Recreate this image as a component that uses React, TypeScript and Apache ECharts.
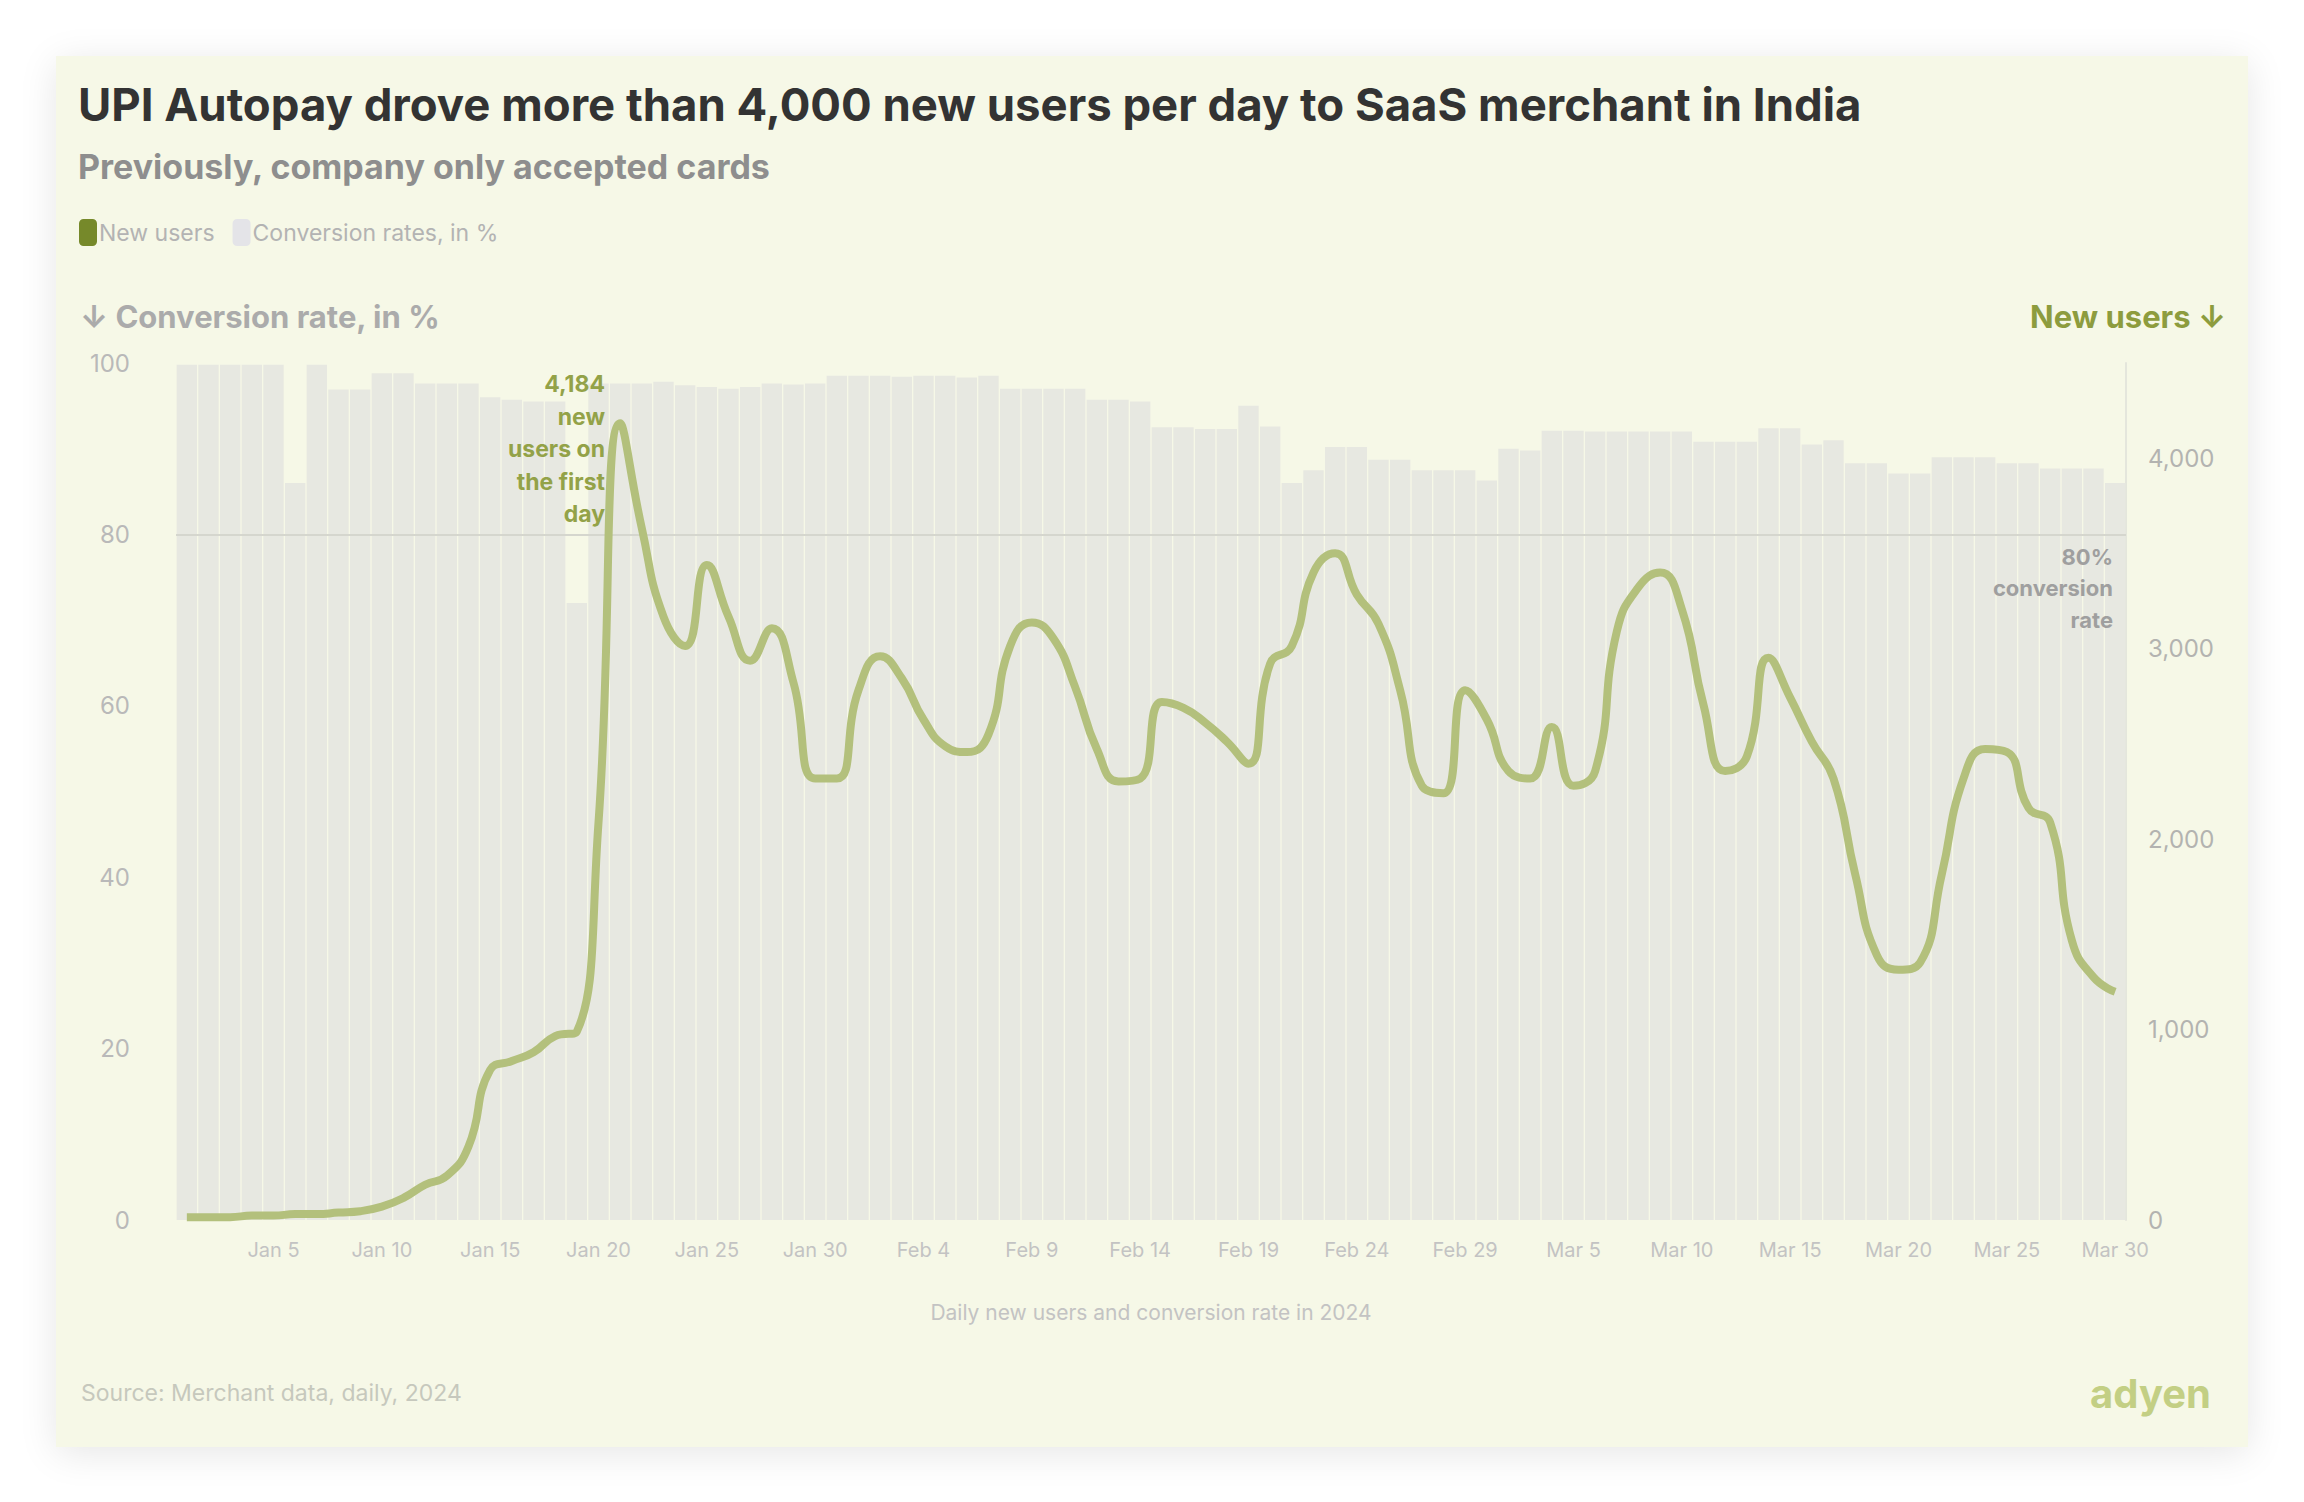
import React, { useEffect, useRef } from "react";
import * as echarts from "echarts";

const startYear = 2024;
const startMonth = 0;
const dayCount = 90;
const monthNames = ["Jan", "Feb", "Mar", "Apr", "May", "Jun", "Jul", "Aug", "Sep", "Oct", "Nov", "Dec"];
const categories: string[] = [];
for (let i = 0; i < dayCount; i++) {
  const d = new Date(startYear, startMonth, 1 + i);
  categories.push(monthNames[d.getMonth()] + " " + d.getDate());
}

const newUsers = [
  15, 15, 15, 23, 23, 31, 31, 39, 46, 70,
  116, 185, 232, 386, 788, 835, 881, 966, 989, 2087,
  4184, 3632, 3168, 3014, 3439, 3168, 2937, 3107, 2821, 2318,
  2318, 2782, 2960, 2844, 2628, 2488, 2457, 2550, 3014, 3138,
  3053, 2798, 2473, 2303, 2318, 2720, 2689, 2612, 2512, 2396,
  2921, 3014, 3400, 3501, 3284, 3130, 2782, 2280, 2241, 2782,
  2628, 2357, 2318, 2589, 2280, 2357, 3091, 3323, 3400, 3207,
  2705, 2357, 2434, 2952, 2743, 2512, 2318, 1816, 1391, 1314,
  1352, 1816, 2318, 2473, 2457, 2164, 2087, 1468, 1275, 1198,
];

const conversionRate = [
  99.8, 99.8, 99.8, 99.8, 99.8, 86, 99.8, 96.9, 96.9, 98.8,
  98.8, 97.6, 97.6, 97.6, 96, 95.7, 95.5, 95.5, 72, 97.6,
  97.6, 97.6, 97.8, 97.4, 97.2, 97.0, 97.2, 97.6, 97.5, 97.6,
  98.5, 98.5, 98.5, 98.4, 98.5, 98.5, 98.3, 98.5, 97, 97,
  97, 97, 95.7, 95.7, 95.5, 92.5, 92.5, 92.3, 92.3, 95,
  92.6, 86, 87.5, 90.2, 90.2, 88.7, 88.7, 87.5, 87.5, 87.5,
  86.3, 90, 89.8, 92.1, 92.1, 92, 92, 92, 92, 92,
  90.8, 90.8, 90.8, 92.4, 92.4, 90.5, 91, 88.3, 88.3, 87.1,
  87.1, 89, 89, 89, 88.3, 88.3, 87.7, 87.7, 87.7, 86,
];

const leftTicks = [0, 20, 40, 60, 80, 100];
const rightTickStep = 1000;
const rightMax = 4500;
const referenceRate = 80;
const peakLabel = "4,184\nnew\nusers on\nthe first\nday";

const FONT = "Inter, 'Noto Sans', sans-serif";

export default function App() {
  const ref = useRef<HTMLDivElement>(null);
  useEffect(() => {
    if (!ref.current) return;
    const chart = echarts.init(ref.current, undefined, { renderer: "svg" });
    chart.setOption({
      animation: false,
      textStyle: { fontFamily: FONT },
      legend: {
        left: 74,
        top: 214,
        itemWidth: 18,
        itemHeight: 27,
        itemGap: 18,
        textStyle: { fontSize: 23, color: "#b3b3b3", fontFamily: FONT, padding: [0, 0, 0, -3] },
        data: [
          { name: "New users", icon: "roundRect", itemStyle: { color: "#76892a" } },
          { name: "Conversion rates, in %", icon: "roundRect", itemStyle: { color: "#e4e4e8" } },
        ],
      },
      grid: { left: 176, right: 178, top: 363, bottom: 282 },
      xAxis: {
        type: "category",
        data: categories,
        boundaryGap: true,
        axisLine: { show: false },
        axisTick: { show: false },
        axisLabel: {
          interval: (index: number) => index % 5 === 4,
          color: "#c3c3c3",
          fontSize: 20,
          margin: 20,
          fontFamily: FONT,
        },
        name: "Daily new users and conversion rate in 2024",
        nameLocation: "middle",
        nameGap: 82,
        nameTextStyle: { color: "#c3c3c3", fontSize: 21, fontFamily: FONT },
      },
      yAxis: [
        {
          type: "value",
          min: leftTicks[0],
          max: leftTicks[leftTicks.length - 1],
          interval: leftTicks[1] - leftTicks[0],
          splitLine: { show: false },
          axisLine: { show: false },
          axisTick: { show: false },
          axisLabel: { color: "#b9b9b9", fontSize: 24, margin: 46, fontFamily: FONT },
        },
        {
          type: "value",
          min: 0,
          max: rightMax,
          interval: rightTickStep,
          position: "right",
          splitLine: { show: false },
          axisLine: { show: true, lineStyle: { color: "#e4e6dc", width: 2 } },
          axisTick: { show: false },
          axisLabel: {
            color: "#b3b3b0",
            fontSize: 24,
            margin: 22,
            fontFamily: FONT,
            formatter: (v: number) => (v % rightTickStep === 0 ? v.toLocaleString("en-US") : ""),
          },
        },
      ],
      series: [
        {
          name: "Conversion rates, in %",
          type: "bar",
          yAxisIndex: 0,
          data: conversionRate,
          barCategoryGap: "6%",
          itemStyle: { color: "#e7e8e1" },
          markLine: {
            silent: true,
            symbol: "none",
            label: { show: false },
            lineStyle: { color: "#d5d6ce", width: 2, type: "solid" },
            data: [{ yAxis: referenceRate }],
          },
        },
        {
          name: "New users",
          type: "line",
          yAxisIndex: 1,
          data: newUsers,
          smooth: 0.5,
          showSymbol: false,
          lineStyle: { color: "#b3c07c", width: 8 },
          itemStyle: { color: "#b3c07c" },
          z: 5,
        },
      ],
      graphic: [
        {
          type: "text",
          x: 78,
          y: 104,
          style: {
            text: "UPI Autopay drove more than 4,000 new users per day to SaaS merchant in India",
            font: `bold 45.5px ${FONT}`,
            fill: "#333333",
            textVerticalAlign: "middle",
          },
        },
        {
          type: "text",
          x: 78,
          y: 166,
          style: {
            text: "Previously, company only accepted cards",
            font: `bold 34px ${FONT}`,
            fill: "#8e8e8e",
            textVerticalAlign: "middle",
          },
        },
        {
          type: "text",
          x: 80,
          y: 316,
          style: {
            text: "↓ Conversion rate, in %",
            font: `bold 31px ${FONT}`,
            fill: "#ababab",
            textVerticalAlign: "middle",
          },
        },
        {
          type: "text",
          x: 2226,
          y: 316,
          style: {
            text: "New users ↓",
            font: `bold 31px ${FONT}`,
            fill: "#8d9c3e",
            textAlign: "right",
            textVerticalAlign: "middle",
          },
        },
        {
          type: "text",
          x: 605,
          y: 368,
          z: 20,
          style: {
            text: peakLabel,
            font: `bold 23px ${FONT}`,
            lineHeight: 32.5,
            fill: "#93a248",
            textAlign: "right",
          },
        },
        {
          type: "text",
          x: 2113,
          y: 541,
          z: 20,
          style: {
            text: "80%\nconversion\nrate",
            font: `bold 22px ${FONT}`,
            lineHeight: 31.5,
            fill: "#9f9f9f",
            textAlign: "right",
          },
        },
        {
          type: "text",
          x: 81,
          y: 1393,
          style: {
            text: "Source: Merchant data, daily, 2024",
            font: `23px ${FONT}`,
            fill: "#c6c8bd",
            textVerticalAlign: "middle",
          },
        },
        {
          type: "text",
          x: 2211,
          y: 1393,
          style: {
            text: "adyen",
            font: `bold 40px ${FONT}`,
            fill: "#c3cf84",
            textAlign: "right",
            textVerticalAlign: "middle",
          },
        },
      ],
    });
    return () => chart.dispose();
  }, []);

  return (
    <div style={{ position: "fixed", left: 0, top: 0, width: 2304, height: 1502, background: "#ffffff" }}>
      <div
        style={{
          position: "absolute",
          left: 56,
          top: 56,
          width: 2192,
          height: 1391,
          background: "#f6f8e7",
          boxShadow: "0 6px 36px rgba(0,0,0,0.10)",
        }}
      />
      <div ref={ref} style={{ position: "absolute", left: 0, top: 0, width: 2304, height: 1502 }} />
    </div>
  );
}
